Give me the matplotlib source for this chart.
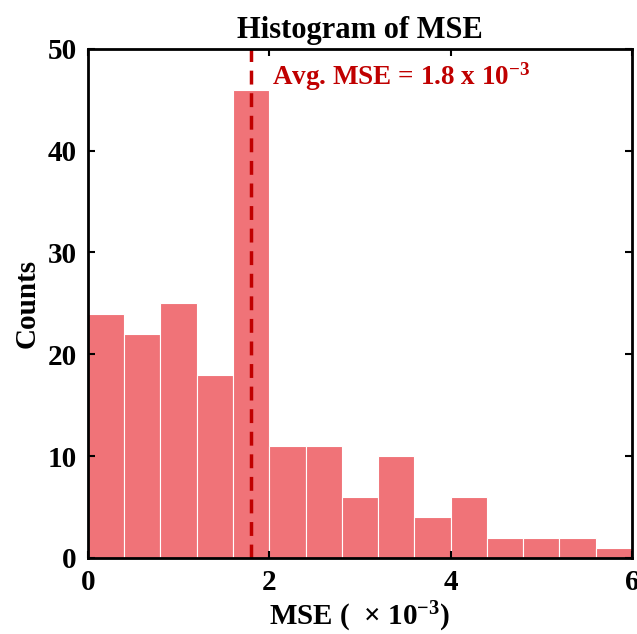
import matplotlib
matplotlib.use("Agg")
import matplotlib.pyplot as plt
import numpy as np

bin_edges = [0, 0.4, 0.8, 1.2, 1.6, 2.0, 2.4, 2.8, 3.2, 3.6, 4.0, 4.4, 4.8, 5.2, 5.6, 6.0]
counts = [24, 22, 25, 18, 46, 11, 11, 6, 10, 4, 6, 2, 2, 2, 1]
avg_mse = 1.8
xticks = [0, 2, 4, 6]
yticks = [0, 10, 20, 30, 40, 50]

plt.rcParams['font.family'] = ['Liberation Serif', 'DejaVu Serif']
plt.rcParams['font.weight'] = 'bold'
plt.rcParams['mathtext.fontset'] = 'custom'
plt.rcParams['mathtext.rm'] = 'Liberation Serif:bold'
plt.rcParams['mathtext.it'] = 'Liberation Serif:bold'
plt.rcParams['mathtext.bf'] = 'Liberation Serif:bold'
plt.rcParams['mathtext.default'] = 'rm'

fig = plt.figure(figsize=(6.37, 6.34), dpi=100)
ax = fig.add_axes([0.138, 0.12, 0.854, 0.803])

centers = np.array(bin_edges[:-1])
widths = np.diff(bin_edges)
ax.hist(centers + widths / 2, bins=bin_edges, weights=counts,
        color='#F07378', edgecolor='white', linewidth=0.8)
ax.axvline(avg_mse, color='#C00000', linestyle=(0, (4, 2.5)), linewidth=2.5)
ax.text(2.03, 47.3, r'Avg. MSE = 1.8 x 10$^{-3}$', color='#C00000',
        fontsize=19.5, fontweight='bold', va='center', ha='left')

ax.set_xlim(0, 6)
ax.set_ylim(0, 50)
ax.set_xticks(xticks)
ax.set_yticks(yticks)
ax.tick_params(direction='in', top=True, right=True, labelsize=21, length=5, width=1.5, pad=8)
for s in ax.spines.values():
    s.set_linewidth(2)
ax.set_title('Histogram of MSE', fontsize=22, fontweight='bold', pad=8)
ax.set_xlabel(r'MSE (  × 10$^{-3}$)', fontsize=21, fontweight='bold', labelpad=3)
ax.set_ylabel('Counts', fontsize=21, fontweight='bold', labelpad=5)
fig.savefig('out.png', dpi=100)
